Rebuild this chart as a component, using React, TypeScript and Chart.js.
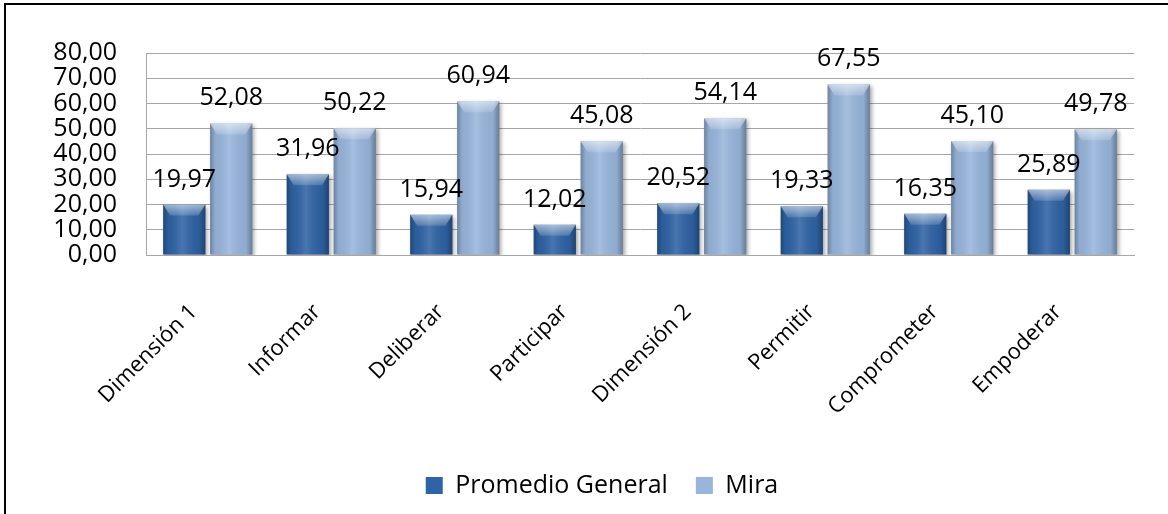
import React, { useEffect, useRef } from 'react';
import { Chart, registerables } from 'chart.js';

Chart.register(...registerables);

const categories = ['Dimensión 1', 'Informar', 'Deliberar', 'Participar', 'Dimensión 2', 'Permitir', 'Comprometer', 'Empoderar'];
const promedioGeneral = [19.97, 31.96, 15.94, 12.02, 20.52, 19.33, 16.35, 25.89];
const mira = [52.08, 50.22, 60.94, 45.08, 54.14, 67.55, 45.10, 49.78];
const seriesNames = ['Promedio General', 'Mira'];
const yMin = 0;
const yMax = 80;
const yStep = 10;

const fmt = (v: number) => Number(v).toFixed(2).replace('.', ',');
const FONT = '"Open Sans", "Liberation Sans", sans-serif';

const shadowPlugin = {
  id: 'barShadow',
  beforeDatasetDraw(chart: any) {
    const ctx = chart.ctx;
    ctx.save();
    ctx.shadowColor = 'rgba(0,0,0,0.35)';
    ctx.shadowBlur = 4;
    ctx.shadowOffsetX = 2;
    ctx.shadowOffsetY = 2;
  },
  afterDatasetDraw(chart: any, args: any) {
    const ctx = chart.ctx;
    ctx.restore();
    ctx.save();
    args.meta.data.forEach((el: any) => {
      const left = el.x - el.width / 2;
      const right = el.x + el.width / 2;
      const top = Math.min(el.y, el.base);
      const bottom = Math.max(el.y, el.base);
      const h = bottom - top;
      const g = ctx.createLinearGradient(left, 0, right, 0);
      g.addColorStop(0, 'rgba(0,0,0,0.28)');
      g.addColorStop(0.12, 'rgba(0,0,0,0.06)');
      g.addColorStop(0.45, 'rgba(255,255,255,0.12)');
      g.addColorStop(0.85, 'rgba(0,0,0,0.06)');
      g.addColorStop(1, 'rgba(0,0,0,0.32)');
      ctx.fillStyle = g;
      ctx.fillRect(left, top, right - left, h);
      const bev = Math.min(11, h / 2);
      const gt = ctx.createLinearGradient(0, top, 0, top + bev);
      gt.addColorStop(0, 'rgba(255,255,255,0.55)');
      gt.addColorStop(1, 'rgba(255,255,255,0.15)');
      ctx.fillStyle = gt;
      ctx.beginPath();
      ctx.moveTo(left, top);
      ctx.lineTo(right, top);
      ctx.lineTo(right - 7, top + bev);
      ctx.lineTo(left + 7, top + bev);
      ctx.closePath();
      ctx.fill();
    });
    ctx.restore();
  },
};

const valueLabelPlugin = {
  id: 'valueLabels',
  afterDatasetsDraw(chart: any) {
    const ctx = chart.ctx;
    ctx.save();
    ctx.font = `25px ${FONT}`;
    ctx.fillStyle = '#000';
    ctx.textAlign = 'center';
    ctx.textBaseline = 'alphabetic';
    chart.data.datasets.forEach((ds: any, di: number) => {
      const meta = chart.getDatasetMeta(di);
      meta.data.forEach((el: any, i: number) => {
        ctx.fillText(fmt(ds.data[i]), el.x, el.y - 18);
      });
    });
    ctx.restore();
  },
};

const legendShiftPlugin = {
  id: 'legendShift',
  afterLayout(chart: any) {
    const lg = chart.legend;
    if (lg) {
      lg.left += 20;
      lg.right += 20;
    }
  },
};

export default function App() {
  const ref = useRef<HTMLCanvasElement | null>(null);

  useEffect(() => {
    document.body.style.margin = '0';
    document.body.style.overflow = 'hidden';
    const canvas = ref.current;
    if (!canvas) return;
    const chart = new Chart(canvas, {
      type: 'bar',
      data: {
        labels: categories,
        datasets: [
          {
            label: seriesNames[0],
            data: promedioGeneral,
            backgroundColor: '#2e63a5',
            borderColor: '#2a5690',
            borderWidth: 0,
            categoryPercentage: 0.76,
            barPercentage: 0.9,
          },
          {
            label: seriesNames[1],
            data: mira,
            backgroundColor: '#98b6dc',
            borderColor: '#a9c0de',
            borderWidth: 0,
            categoryPercentage: 0.76,
            barPercentage: 0.9,
          },
        ],
      },
      options: {
        responsive: false,
        animation: false,
        devicePixelRatio: 1,
        layout: { padding: { left: 30, right: 34, top: 53, bottom: 6 } },
        plugins: {
          legend: {
            position: 'bottom',
            labels: {
              boxWidth: 17,
              boxHeight: 17,
              padding: 28,
              color: '#000',
              font: { family: FONT, size: 25 },
            },
          },
          tooltip: { enabled: false },
        },
        scales: {
          x: {
            ticks: {
              autoSkip: false,
              minRotation: 45,
              maxRotation: 45,
              padding: 44,
              labelOffset: -14,
              color: '#000',
              font: { family: FONT, size: 22 },
            },
            grid: { display: false, drawTicks: false },
            border: { display: true, color: '#a6a6a6' },
            afterFit(s: any) { s.height = 190; },
          },
          y: {
            min: yMin,
            max: yMax,
            ticks: {
              stepSize: yStep,
              autoSkip: false,
              padding: 29,
              color: '#000',
              font: { family: FONT, size: 25 },
              callback: (v: any) => fmt(v),
            },
            grid: { color: '#a6a6a6', drawTicks: false },
            border: { display: true, color: '#a6a6a6' },
            afterFit(s: any) { s.width = 116; },
          },
        },
      },
      plugins: [shadowPlugin, valueLabelPlugin, legendShiftPlugin],
    });
    return () => chart.destroy();
  }, []);

  return (
    <div style={{ position: 'relative', width: 1168, height: 514, overflow: 'hidden', background: '#fff' }}>
      <canvas ref={ref} width={1168} height={514} style={{ display: 'block', width: 1168, height: 514 }} />
      <div
        style={{
          position: 'absolute',
          left: 4,
          top: 3,
          width: 1300,
          height: 700,
          borderLeft: '2px solid #000',
          borderTop: '2px solid #000',
          pointerEvents: 'none',
        }}
      />
    </div>
  );
}
